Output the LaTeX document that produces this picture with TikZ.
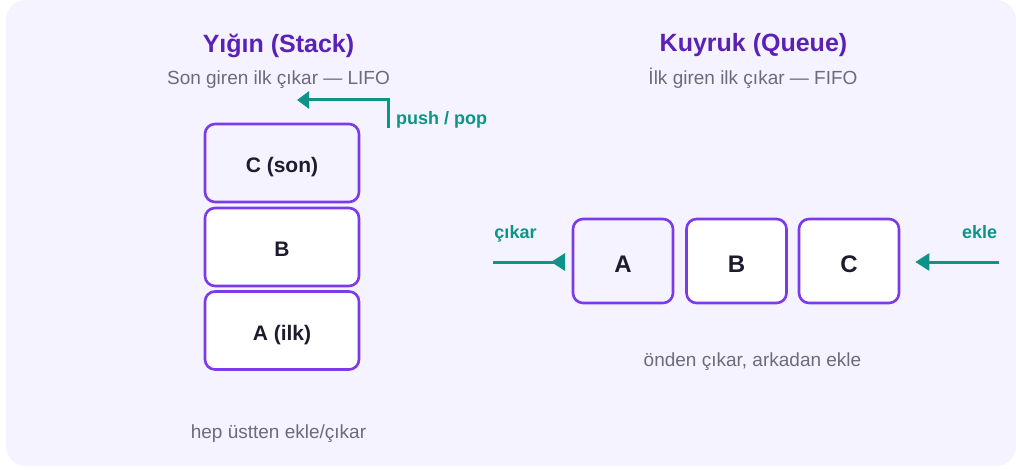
\documentclass[tikz,border=0pt]{standalone}
\usepackage{fontspec}
\setmainfont{Liberation Sans}
\usetikzlibrary{arrows.meta}
\definecolor{panelbg}{HTML}{F5F3FF}
\definecolor{boxline}{HTML}{7C3AED}
\definecolor{titlecol}{HTML}{5B21B6}
\definecolor{notecol}{HTML}{6B6B7B}
\definecolor{flowcol}{HTML}{0D9488}
\definecolor{inkcol}{HTML}{1E1B2E}
\tikzset{
  panel/.style={fill=panelbg, draw=none, rounded corners=20pt},
  cell/.style={draw=boxline, line width=2.6pt, rounded corners=10pt, inner sep=0pt,
    text=inkcol, font=\bfseries\fontsize{21}{25}\selectfont,
    text depth=0pt, text height=19.4pt},
  stackcell/.style={cell, minimum width=154pt, minimum height=78pt},
  queuecell/.style={cell, minimum width=100pt, minimum height=84pt,
    font=\bfseries\fontsize{24}{28}\selectfont, text height=22pt},
  heading/.style={anchor=base, text=titlecol, font=\bfseries\fontsize{25}{30}\selectfont, inner sep=0pt},
  note/.style={anchor=base, text=notecol, font=\fontsize{19}{23}\selectfont, inner sep=0pt},
  flowlabel/.style={anchor=base, text=flowcol, font=\bfseries\fontsize{18}{22}\selectfont, inner sep=0pt},
  flow/.style={draw=flowcol, line width=3pt},
}
\begin{document}
\begin{tikzpicture}[x=1pt, y=-1pt]
\useasboundingbox (0,0) rectangle (1016,470);
\fill[white] (0,0) rectangle (1016,470);
\path[panel] (6,0) rectangle (1016,466);

% ---- Stack (LIFO) ----
\node[heading] (stitle) at (278.5,53) {Yığın (Stack)};
\node[note] (ssub) at (278.5,85) {Son giren ilk çıkar — LIFO};
\node[stackcell, fill=panelbg] (sC) at (282,163) {C (son)};
\node[stackcell, fill=white] (sB) at (282,247) {B};
\node[stackcell, fill=white] (sA) at (282,330.5) {A (ilk)};
\node[note] (snote) at (278.5,438) {hep üstten ekle/çıkar};

\coordinate (pushfoot) at (388,128);
\coordinate (pushbend) at (388,100);
\coordinate (pushtip) at (297,100);
\draw[flow, -{Triangle[length=12pt, width=17pt]}] (pushfoot) -- (pushbend) -- (pushtip);
\node[flowlabel, anchor=base west] (pushlbl) at (396,125) {push / pop};

% ---- Queue (FIFO) ----
\node[heading] (qtitle) at (753.5,52) {Kuyruk (Queue)};
\node[note] (qsub) at (753,85) {İlk giren ilk çıkar — FIFO};
\node[queuecell, fill=panelbg] (qA) at (623,261) {A};
\node[queuecell, fill=white] (qB) at (736.5,261) {B};
\node[queuecell, fill=white] (qC) at (849,261) {C};
\node[note] (qnote) at (752.5,366) {önden çıkar, arkadan ekle};

\coordinate (outend) at (493,262);
\coordinate (outstart) at (565,262);
\draw[flow, -{Triangle[reversed, length=14pt, width=17pt]}] (outend) -- (outstart);
\node[flowlabel] (outlbl) at (515.5,238) {çıkar};

\coordinate (instart) at (999,262);
\draw[flow, -{Triangle[length=14pt, width=17pt]}] (instart) -- ([xshift=15pt]qC.east |- instart);
\node[flowlabel] (inlbl) at (979.5,238) {ekle};
\end{tikzpicture}
\end{document}
